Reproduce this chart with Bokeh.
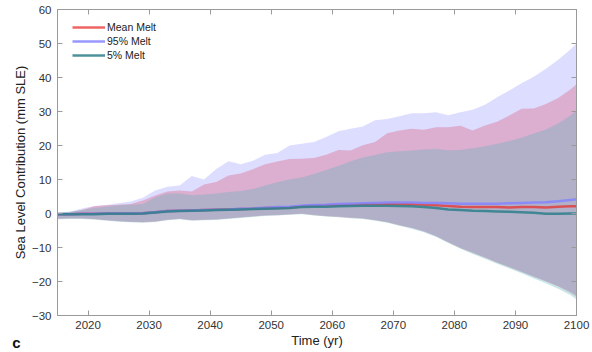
from bokeh.plotting import figure
from bokeh.models import (LinearAxis, Range1d, Label, Legend, LegendItem, FixedTicker,
                          CustomJSTickFormatter)
from bokeh.embed import file_html
from bokeh.resources import INLINE

years = [2015, 2017, 2019, 2021, 2023, 2025, 2027, 2029, 2031, 2033, 2035, 2037, 2039, 2041,
         2043, 2045, 2047, 2049, 2051, 2053, 2055, 2057, 2059, 2061, 2063, 2065, 2067, 2069,
         2071, 2073, 2075, 2077, 2079, 2081, 2083, 2085, 2087, 2089, 2091, 2093, 2095, 2097,
         2099, 2100]

p95_hi = [0.4, 0.5, 1.5, 2.2, 2.5, 3.0, 3.5, 4.6, 6.8, 7.9, 8.2, 11.0, 10.0, 13.1,
          15.4, 14.5, 15.5, 17.3, 17.8, 20.0, 20.5, 21.0, 22.5, 24.2, 24.9, 25.6, 27.4, 27.8,
          28.6, 29.5, 29.5, 29.8, 28.9, 29.8, 30.5, 32.0, 34.2, 36.2, 38.3, 40.2, 42.6, 45.2,
          48.2, 50.0]
p95_lo = [-1.5, -1.4, -1.4, -1.6, -1.9, -2.2, -2.4, -2.5, -2.3, -1.8, -1.5, -1.9, -1.8, -1.7,
          -1.4, -1.1, -0.8, -0.5, -0.4, -0.2, 0.0, -0.4, -0.7, -0.9, -1.2, -1.4, -1.9, -2.5,
          -3.4, -4.2, -5.2, -6.6, -8.4, -10.1, -11.5, -12.9, -14.4, -15.7, -17.1, -18.5, -19.9, -21.3,
          -23.0, -24.2]

mean_hi = [0.2, 0.4, 1.0, 2.1, 2.4, 2.6, 2.8, 3.8, 5.3, 6.5, 6.8, 6.5, 8.5, 9.3,
           11.2, 11.8, 13.0, 14.5, 15.3, 16.0, 16.1, 16.3, 17.3, 18.7, 18.5, 20.1, 21.0, 23.6,
           24.4, 24.9, 24.6, 25.4, 25.4, 25.8, 24.4, 25.9, 27.0, 28.8, 30.8, 30.9, 32.2, 34.0,
           36.5, 38.0]
mean_lo = [-1.6, -1.5, -1.5, -1.7, -2.0, -2.3, -2.5, -2.6, -2.4, -1.9, -1.6, -2.0, -1.9, -1.8,
           -1.5, -1.2, -0.9, -0.6, -0.5, -0.3, -0.1, -0.5, -0.8, -1.0, -1.3, -1.5, -2.0, -2.6,
           -3.5, -4.3, -5.3, -6.7, -8.5, -10.2, -11.6, -13.0, -14.5, -15.8, -17.2, -18.6, -20.0, -21.5,
           -23.3, -24.5]

p5_hi = [0.3, 0.5, 1.0, 1.6, 2.0, 2.4, 2.6, 2.8, 4.8, 5.9, 5.9, 5.4, 5.6, 5.9,
         6.3, 6.6, 7.2, 8.2, 9.2, 10.0, 10.6, 11.6, 12.8, 14.0, 15.4, 16.5, 17.2, 18.0,
         18.3, 18.5, 18.8, 19.0, 18.6, 18.7, 19.2, 19.8, 20.5, 21.3, 22.3, 23.5, 24.7, 26.5,
         28.8, 30.3]
p5_lo = [-1.7, -1.6, -1.6, -1.8, -2.1, -2.4, -2.6, -2.7, -2.5, -2.0, -1.7, -2.1, -2.0, -1.9,
         -1.6, -1.3, -1.0, -0.7, -0.6, -0.4, -0.2, -0.6, -0.9, -1.1, -1.4, -1.6, -2.1, -2.7,
         -3.6, -4.5, -5.5, -6.9, -8.7, -10.4, -11.9, -13.3, -14.8, -16.2, -17.6, -19.1, -20.5, -22.1,
         -24.0, -25.3]

mean_line = [-0.2, -0.2, -0.1, -0.1, 0.0, 0.0, 0.0, 0.1, 0.4, 0.7, 0.8, 0.9, 1.0, 1.1,
             1.2, 1.3, 1.4, 1.6, 1.7, 1.8, 2.1, 2.3, 2.4, 2.5, 2.6, 2.7, 2.8, 2.8,
             2.8, 2.7, 2.6, 2.4, 2.2, 2.0, 1.9, 1.9, 1.9, 1.8, 1.9, 1.9, 1.8, 2.0,
             2.1, 2.1]
p95_line = [-0.2, -0.2, -0.1, -0.1, 0.0, 0.0, 0.0, 0.1, 0.4, 0.7, 0.8, 0.9, 1.0, 1.1,
            1.2, 1.4, 1.5, 1.7, 1.9, 2.0, 2.3, 2.5, 2.6, 2.8, 2.9, 3.0, 3.1, 3.2,
            3.2, 3.2, 3.1, 3.1, 3.0, 2.9, 2.9, 2.9, 2.9, 3.0, 3.1, 3.2, 3.3, 3.6,
            4.0, 4.2]
p5_line = [-0.2, -0.2, -0.2, -0.2, -0.1, -0.1, -0.1, 0.0, 0.3, 0.6, 0.7, 0.8, 0.9, 1.0,
           1.1, 1.2, 1.3, 1.4, 1.5, 1.6, 1.9, 2.0, 2.0, 2.1, 2.2, 2.3, 2.3, 2.3,
           2.2, 2.1, 1.9, 1.6, 1.2, 1.0, 0.8, 0.7, 0.6, 0.5, 0.4, 0.2, -0.1, -0.1,
           0.0, 0.0]

x_ticks = [2020, 2030, 2040, 2050, 2060, 2070, 2080, 2090, 2100]
y_ticks = [-30, -20, -10, 0, 10, 20, 30, 40, 50, 60]

FONT = "Liberation Sans"
AX = "#9a9a9a"

p = figure(width=592, height=352, output_backend="svg", toolbar_location=None,
           x_range=Range1d(2015, 2100), y_range=Range1d(-30, 60),
           min_border_left=57, min_border_right=16, min_border_top=9, min_border_bottom=37,
           background_fill_color="white", border_fill_color="white")
p.outline_line_color = AX
p.outline_line_width = 1
p.xgrid.visible = False
p.ygrid.visible = False

# bands
p.varea(x=years, y1=p95_lo, y2=p95_hi, fill_color="#6666ff", fill_alpha=0.22)
p.varea(x=years, y1=mean_lo, y2=mean_hi, fill_color="#dd2244", fill_alpha=0.25)
p.varea(x=years, y1=p5_lo, y2=p5_hi, fill_color="#62b4b9", fill_alpha=0.35)

# lines
r_mean = p.line(years, mean_line, line_color="#e8312f", line_width=2.5, line_alpha=0.75)
r_95 = p.line(years, p95_line, line_color="#8585ff", line_width=2.5, line_alpha=0.85)
r_5 = p.line(years, p5_line, line_color="#2e7f8a", line_width=2.5, line_alpha=0.85)

def style_axis(ax):
    ax.axis_line_color = AX
    ax.major_tick_line_color = AX
    ax.major_tick_in = 5
    ax.major_tick_out = 0
    ax.minor_tick_line_color = None
    ax.major_label_text_font = FONT
    ax.major_label_text_font_size = "11.5px"
    ax.major_label_text_color = "#333333"
    ax.axis_label_text_font = FONT
    ax.axis_label_text_font_size = "13px"
    ax.axis_label_text_font_style = "normal"
    ax.axis_label_text_color = "#222222"

p.xaxis.ticker = FixedTicker(ticks=x_ticks)
p.yaxis.ticker = FixedTicker(ticks=y_ticks)
p.xaxis.axis_label = "Time (yr)"
p.yaxis.axis_label = "Sea Level Contribution (mm SLE)"
style_axis(p.xaxis[0])
style_axis(p.yaxis[0])
p.xaxis.major_label_standoff = 5
p.xaxis.axis_label_standoff = 1
p.yaxis.major_label_standoff = 6
p.yaxis.axis_label_standoff = 1

blank = CustomJSTickFormatter(code="return ''")
top = LinearAxis(ticker=FixedTicker(ticks=x_ticks), formatter=blank, major_label_standoff=0)
style_axis(top)
top.major_label_text_font_size = "1px"
p.add_layout(top, "above")
right = LinearAxis(ticker=FixedTicker(ticks=y_ticks), formatter=blank, major_label_standoff=0)
style_axis(right)
right.major_label_text_font_size = "1px"
p.add_layout(right, "right")

legend = Legend(items=[LegendItem(label="Mean Melt", renderers=[r_mean]),
                       LegendItem(label="95% Melt", renderers=[r_95]),
                       LegendItem(label="5% Melt", renderers=[r_5])],
                location=(15, 253), margin=0, padding=0, spacing=0,
                glyph_width=33, glyph_height=14, label_standoff=2,
                label_text_font=FONT, label_text_font_size="10.5px",
                label_text_color="#222222", label_height=14,
                background_fill_alpha=0, border_line_color=None)
p.add_layout(legend)

# panel letter, placed in the left side panel (spare room there), outside the frame clip
p.add_layout(Label(x=2007.6, y=-37.9, text="c",
                   text_font=FONT, text_font_size="15px", text_font_style="bold",
                   text_baseline="middle", text_color="#111111"), "left")

open("out.html", "w").write(file_html(p, INLINE))
